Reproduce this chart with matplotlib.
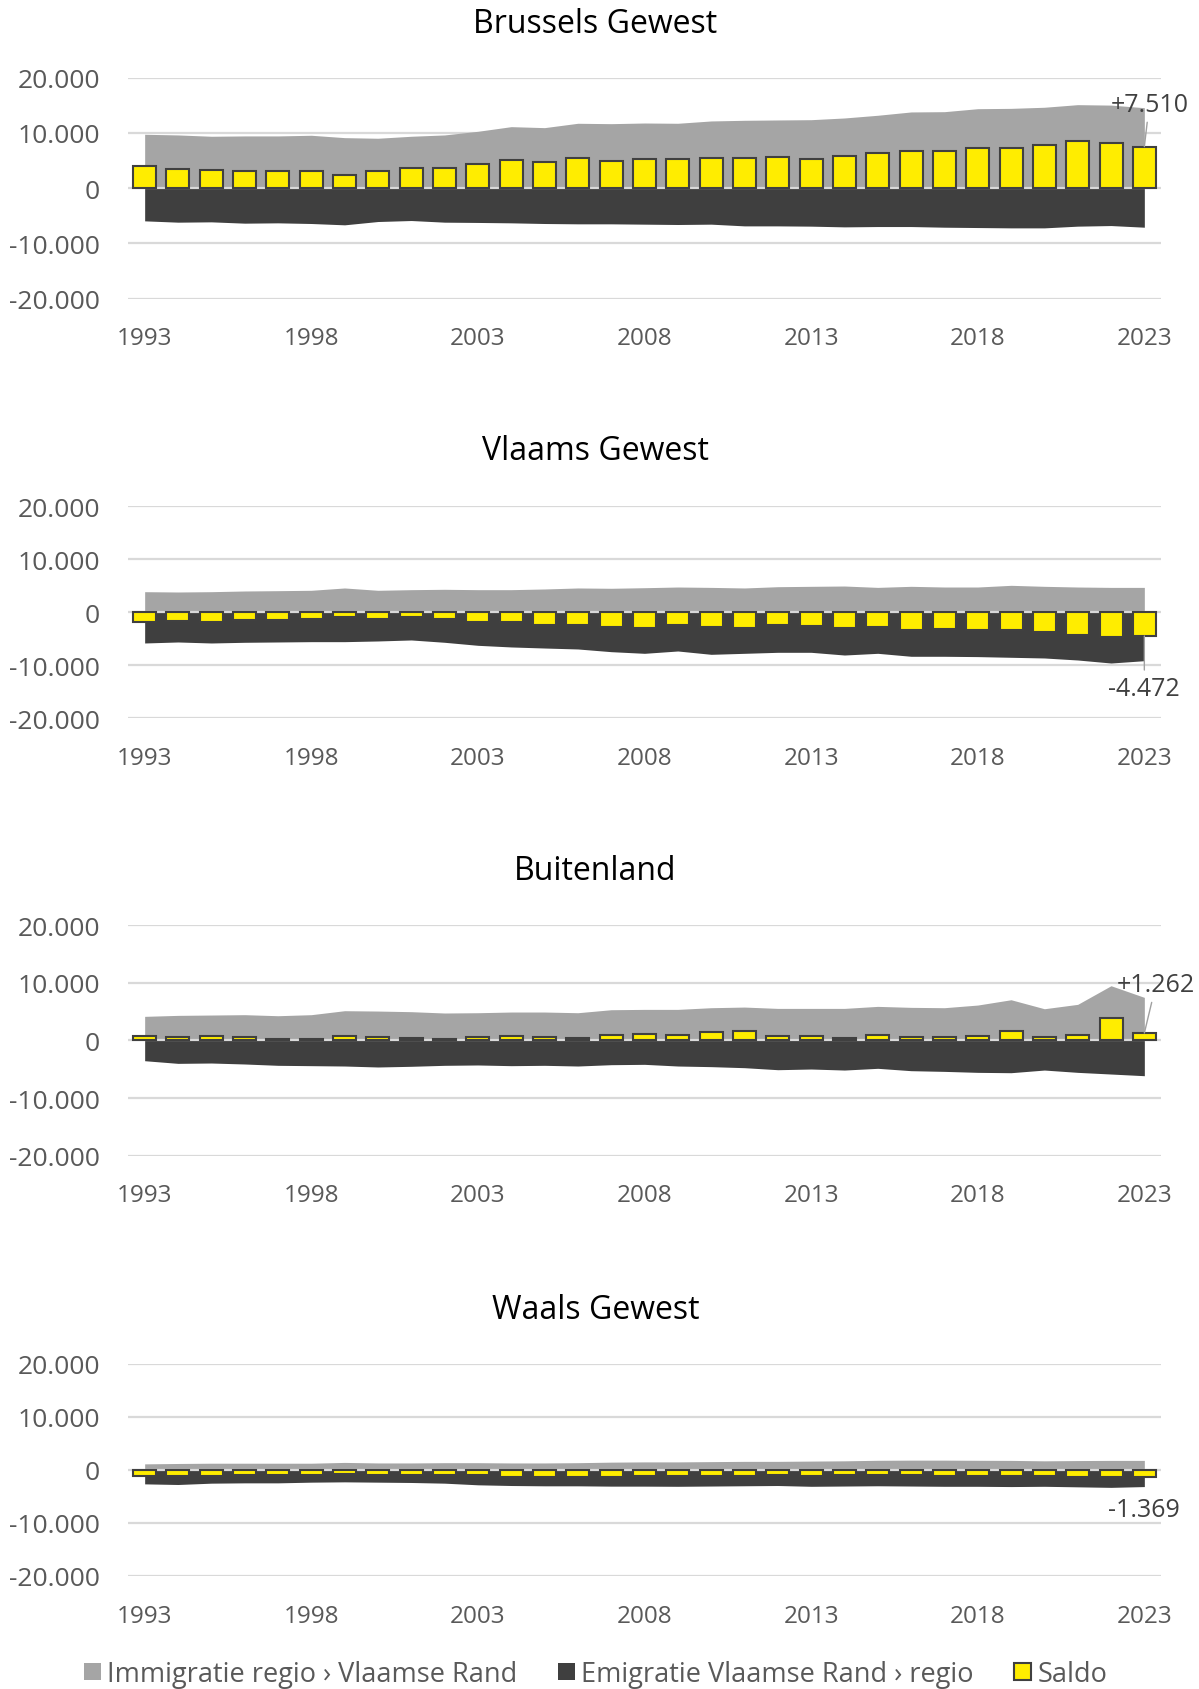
import matplotlib.pyplot as plt
from matplotlib.patches import Patch
import numpy as np

plt.rcParams['font.family'] = ['Open Sans', 'DejaVu Sans']

years = list(range(1993, 2024))
titles = ['Brussels Gewest', 'Vlaams Gewest', 'Buitenland', 'Waals Gewest']

# Brussels Gewest
imm_bru = [9760, 9640, 9400, 9460, 9460, 9580, 9150, 9040, 9400, 9640, 10300, 11140, 10960, 11750, 11680, 11800,
           11750, 12170, 12290, 12350, 12400, 12710, 13200, 13800, 13850, 14390, 14450, 14650, 15120, 15040, 14570]
emi_bru = [-5910, -6150, -6090, -6330, -6270, -6390, -6630, -6030, -5850, -6150, -6200, -6270, -6390, -6450, -6450,
           -6510, -6570, -6510, -6820, -6820, -6870, -7000, -6940, -6940, -7060, -7120, -7180, -7180, -6870, -6760, -7060]
saldo_bru = [3980, 3490, 3250, 3070, 3070, 3130, 2460, 3070, 3740, 3680, 4400, 5120, 4820, 5480, 4990, 5300, 5360,
             5420, 5480, 5600, 5300, 5840, 6380, 6800, 6800, 7230, 7290, 7830, 8490, 8250, 7510]

# Vlaams Gewest
imm_vla = [3890, 3830, 3890, 4020, 4080, 4150, 4590, 4150, 4270, 4340, 4270, 4270, 4400, 4590, 4530, 4640, 4770,
           4700, 4590, 4830, 4900, 4960, 4700, 4900, 4770, 4770, 5090, 4900, 4770, 4700, 4700]
emi_vla = [-5790, -5600, -5790, -5660, -5600, -5540, -5540, -5410, -5220, -5660, -6230, -6540, -6740, -6920, -7430,
           -7740, -7300, -7930, -7740, -7550, -7550, -8060, -7740, -8300, -8300, -8360, -8490, -8620, -9000, -9570, -9130]
saldo_vla = [-1770, -1640, -1770, -1450, -1390, -1260, -820, -1260, -820, -1260, -1890, -1890, -2330, -2330, -2720,
             -2960, -2400, -2830, -3020, -2450, -2640, -3020, -2770, -3340, -3150, -3340, -3280, -3660, -4230, -4720, -4472]

# Buitenland
imm_bui = [4160, 4330, 4390, 4450, 4270, 4450, 5140, 5080, 4970, 4740, 4790, 4910, 4910, 4790, 5310, 5370, 5370,
           5660, 5770, 5540, 5540, 5540, 5890, 5720, 5660, 6120, 7040, 5480, 6240, 9470, 7450]
emi_bui = [-3530, -3990, -3930, -4100, -4330, -4390, -4450, -4620, -4500, -4330, -4270, -4390, -4330, -4450, -4220,
           -4160, -4450, -4560, -4740, -5090, -4970, -5150, -4850, -5260, -5380, -5550, -5610, -5150, -5550, -5840, -6130]
saldo_bui = [750, 580, 690, 520, 170, 230, 750, 640, 460, 200, 640, 750, 640, 460, 870, 1160, 920, 1500, 1560, 750,
             690, 400, 870, 640, 640, 810, 1620, 580, 920, 3810, 1262]

# Waals Gewest
imm_waa = [1130, 1200, 1250, 1250, 1250, 1250, 1400, 1300, 1300, 1350, 1350, 1300, 1300, 1350, 1450, 1500, 1500,
           1550, 1600, 1600, 1650, 1700, 1800, 1830, 1830, 1800, 1780, 1700, 1750, 1780, 1780]
emi_waa = [-2640, -2760, -2510, -2450, -2450, -2320, -2260, -2320, -2380, -2510, -2820, -2950, -3010, -3010, -3070,
           -3070, -3100, -3050, -3000, -2950, -3100, -3050, -3000, -3050, -3100, -3100, -3150, -3100, -3200, -3300, -3150]
saldo_waa = [-1130, -1130, -1130, -940, -940, -940, -750, -940, -940, -940, -940, -1260, -1380, -1380, -1380, -1190,
             -1130, -1130, -1070, -940, -1190, -1000, -880, -1000, -1070, -1070, -1070, -1130, -1260, -1260, -1369]

series = [(imm_bru, emi_bru, saldo_bru), (imm_vla, emi_vla, saldo_vla),
          (imm_bui, emi_bui, saldo_bui), (imm_waa, emi_waa, saldo_waa)]

yticks = [-20000, -10000, 0, 10000, 20000]
ytick_labels = ['-20.000', '-10.000', '0', '10.000', '20.000']
xtick_idx = list(range(0, 31, 5))

c_imm = '#a5a5a5'
c_emi = '#3f3f3f'
c_saldo = '#ffed00'
c_grid = '#d9d9d9'
c_text = '#595959'

W, H = 1199, 1690
fig = plt.figure(figsize=(W / 100, H / 100), dpi=100)

# (top, bottom) of each panel in pixels
panel_px = [(78.7, 299.7), (507.3, 719.3), (926, 1156.7), (1364.7, 1577)]
title_px = [24.5, 451.5, 872, 1310.5]
left_px, right_px = 128, 1161

# label positions in (x index, y value), leader line or not
labels = [(30.15, 15200, True), (30.0, -14300, True), (30.35, 9700, True), (30.0, -7400, False)]

x = np.arange(len(years))
for k, (imm, emi, saldo) in enumerate(series):
    top, bot = panel_px[k]
    ax = fig.add_axes([left_px / W, 1 - bot / H, (right_px - left_px) / W, (bot - top) / H])
    for yv in yticks:
        if yv != 0:
            ax.axhline(yv, color=c_grid, lw=1.6, zorder=0)
    ax.fill_between(x, 0, imm, color=c_imm, lw=0, zorder=1)
    ax.fill_between(x, 0, emi, color=c_emi, lw=0, zorder=1)
    ax.axhline(0, color=c_grid, lw=1.6, zorder=2)
    ax.bar(x, saldo, width=0.69, color=c_saldo, edgecolor='#404040', lw=1.5, zorder=3)

    ax.set_xlim(-0.5, len(years) - 0.5)
    ax.set_ylim(-20000, 20000)
    ax.set_yticks(yticks)
    ax.set_yticklabels(ytick_labels, color=c_text, fontsize=19)
    ax.set_xticks(xtick_idx)
    ax.set_xticklabels([str(years[i]) for i in xtick_idx], color=c_text, fontsize=17.5)
    ax.tick_params(length=0)
    ax.tick_params(axis='y', pad=20)
    ax.tick_params(axis='x', pad=20)
    for s in ax.spines.values():
        s.set_visible(False)

    fig.text(0.4965, 1 - title_px[k] / H, titles[k], ha='center', va='center', fontsize=23, color='black')

    lx, ly, line = labels[k]
    v = saldo[-1]
    txt = ('+' if v > 0 else '-') + '{:,}'.format(abs(v)).replace(',', '.')
    if line:
        ax.annotate(txt, xy=(x[-1], v), xytext=(lx, ly), ha='center', va='center', fontsize=18,
                    color='#404040', annotation_clip=False,
                    arrowprops=dict(arrowstyle='-', color='#a0a0a0', lw=1, shrinkA=2, shrinkB=0))
    else:
        ax.text(lx, ly, txt, ha='center', va='center', fontsize=18, color='#404040')

handles = [Patch(facecolor=c_imm, edgecolor='none'),
           Patch(facecolor=c_emi, edgecolor='none'),
           Patch(facecolor=c_saldo, edgecolor='#404040', lw=1.5)]
leg_labels = ['Immigratie regio \u203a Vlaamse Rand', 'Emigratie Vlaamse Rand \u203a regio', 'Saldo']
fig.legend(handles, leg_labels, loc='center', bbox_to_anchor=(0.497, 1 - 1675 / H), ncol=3, frameon=False,
           fontsize=19.5, labelcolor=c_text, handlelength=0.6, handleheight=0.6, handletextpad=0.25,
           columnspacing=1.5)

fig.savefig('out.png', dpi=100)
